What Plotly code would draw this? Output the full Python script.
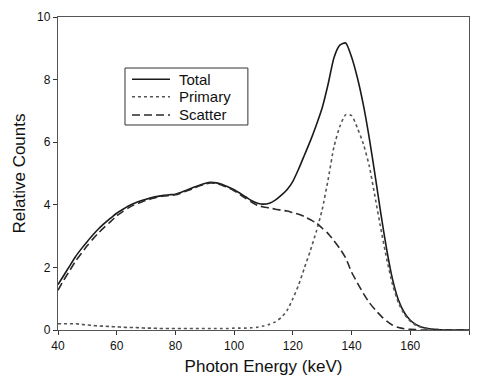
import plotly.graph_objects as go

energy = list(range(40, 182, 2))

total = [1.45, 1.75, 2.05, 2.35, 2.6, 2.83, 3.05, 3.25, 3.42, 3.58,
         3.73, 3.85, 3.96, 4.05, 4.12, 4.18, 4.23, 4.27, 4.3, 4.32,
         4.34, 4.4, 4.47, 4.55, 4.62, 4.68, 4.72, 4.7, 4.65, 4.57,
         4.48, 4.37, 4.25, 4.13, 4.05, 4.02, 4.05, 4.15, 4.3, 4.48,
         4.75, 5.15, 5.6, 6.05, 6.55, 7.1, 7.85, 8.7, 9.1, 9.17,
         8.72, 8.05, 7.2, 6.15, 4.95, 3.7, 2.55, 1.6, 0.95, 0.55,
         0.31, 0.17, 0.09, 0.05, 0.02, 0.01, 0.0, 0.0, 0.0, 0.0, 0.0]

primary = [0.2, 0.2, 0.2, 0.2, 0.18, 0.16, 0.14, 0.13, 0.12, 0.11,
           0.1, 0.09, 0.08, 0.08, 0.07, 0.06, 0.06, 0.05, 0.05, 0.05,
           0.05, 0.05, 0.05, 0.05, 0.05, 0.05, 0.05, 0.05, 0.05, 0.05,
           0.06, 0.06, 0.06, 0.07, 0.09, 0.13, 0.18, 0.26, 0.4, 0.62,
           1.0, 1.45, 2.0, 2.55, 3.15, 3.85, 4.8, 5.85, 6.5, 6.88,
           6.85, 6.45, 5.95, 5.25, 4.25, 3.22, 2.26, 1.44, 0.86, 0.5,
           0.28, 0.15, 0.08, 0.04, 0.02, 0.01, 0.0, 0.0, 0.0, 0.0, 0.0]

scatter = [1.27, 1.6, 1.9, 2.2, 2.45, 2.7, 2.92, 3.12, 3.3, 3.47,
           3.65, 3.78, 3.9, 4.0, 4.07, 4.14, 4.2, 4.25, 4.28, 4.3,
           4.32, 4.38, 4.45, 4.52, 4.6, 4.66, 4.7, 4.68, 4.62, 4.55,
           4.45, 4.33, 4.2, 4.08, 3.98, 3.93, 3.9, 3.86, 3.83, 3.8,
           3.75, 3.7, 3.62, 3.52, 3.42, 3.25, 3.08, 2.85, 2.6, 2.3,
           1.85, 1.5, 1.17, 0.88, 0.65, 0.45, 0.28, 0.15, 0.08, 0.04,
           0.02, 0.01, 0.0, 0.0, 0.0, 0.0, 0.0, 0.0, 0.0, 0.0, 0.0]

series_names = ["Total", "Primary", "Scatter"]
x_ticks = [40, 60, 80, 100, 120, 140, 160, 180]
y_ticks = [0, 2, 4, 6, 8, 10]

FONT = "Liberation Sans, Arial, sans-serif"
styles = {
    "Total": dict(color="#1a1a1a", width=1.6, dash="solid"),
    "Primary": dict(color="#555555", width=1.6, dash="dot"),
    "Scatter": dict(color="#2a2a2a", width=1.6, dash="8px,4px"),
}

fig = go.Figure()
for name, vals in zip(series_names, [total, primary, scatter]):
    fig.add_trace(go.Scatter(x=energy, y=vals, mode="lines", name=name, showlegend=False,
                             line=dict(shape="spline", smoothing=0.6, **styles[name])))

# compact legend box (drawn in paper coordinates)
fig.add_shape(type="rect", xref="paper", yref="paper", x0=0.163, x1=0.462, y0=0.655, y1=0.837,
              line=dict(color="#333333", width=1), fillcolor="white", layer="above")
row_y = [0.801, 0.745, 0.687]
for name, yy in zip(series_names, row_y):
    st = styles[name]
    fig.add_shape(type="line", xref="paper", yref="paper", x0=0.180, x1=0.2725, y0=yy, y1=yy,
                  line=dict(color=st["color"], width=st["width"], dash=st["dash"]), layer="above")
    fig.add_annotation(xref="paper", yref="paper", x=0.289, y=yy, text=name, showarrow=False,
                       xanchor="left", yanchor="middle",
                       font=dict(family=FONT, size=15, color="#111111"))

axis_common = dict(showline=True, linecolor="#555555", linewidth=1.3, mirror=True,
                   ticks="outside", ticklen=4, tickcolor="#333333",
                   showgrid=False, zeroline=False, automargin=False,
                   tickfont=dict(family=FONT, size=12, color="#111111"))

fig.update_layout(
    width=477, height=376,
    margin=dict(l=58, r=8, t=17, b=46, autoexpand=False),
    paper_bgcolor="white", plot_bgcolor="white",
    font=dict(family=FONT, color="#111111"),
    xaxis=dict(range=[40, 180], tickvals=x_ticks,
               title=dict(text="Photon Energy (keV)", font=dict(family=FONT, size=17), standoff=8),
               **axis_common),
    yaxis=dict(range=[0, 10], tickvals=y_ticks,
               title=dict(text="Relative Counts", font=dict(family=FONT, size=17), standoff=7),
               **axis_common),
    showlegend=False,
)

fig.write_html("out.html")
